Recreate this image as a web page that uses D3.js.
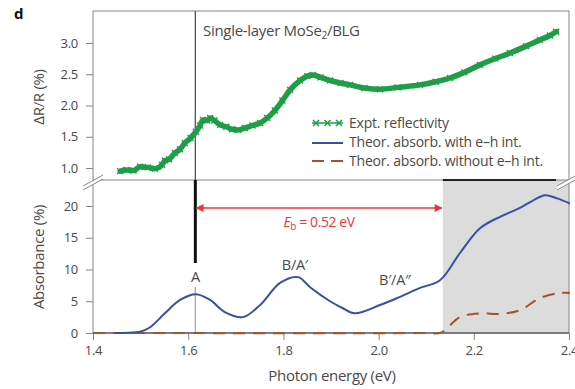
<!DOCTYPE html>
<html>
<head>
<meta charset="utf-8">
<script src="https://cdn.jsdelivr.net/npm/d3@7"></script>
<style>
  body { margin: 0; background: #fff; }
  svg { display: block; font-family: "Open Sans", sans-serif; }
</style>
</head>
<body>
<div id="chart"></div>
<script>
// experimental reflectivity (top panel)
const reflEnergy = [1.457,1.47,1.485,1.499,1.515,1.530,1.545,1.551,1.56,1.572,1.583,1.593,1.605,1.616,1.625,1.631,1.640,1.646,1.655,1.667,1.68,1.692,1.705,1.719,1.735,1.751,1.766,1.782,1.798,1.814,1.835,1.850,1.862,1.878,1.898,1.92,1.940,1.97,2.003,2.04,2.087,2.12,2.150,2.18,2.213,2.245,2.276,2.31,2.339,2.36,2.373];
const reflValue  = [0.95,0.97,0.96,1.02,1.01,0.99,1.05,1.12,1.14,1.24,1.30,1.40,1.48,1.58,1.68,1.77,1.76,1.80,1.76,1.69,1.66,1.62,1.61,1.64,1.68,1.72,1.80,1.92,2.08,2.25,2.40,2.47,2.49,2.45,2.40,2.36,2.33,2.28,2.26,2.29,2.33,2.38,2.44,2.53,2.65,2.75,2.84,2.95,3.05,3.12,3.18];

// theoretical absorbance with e-h interaction
const withEhEnergy = [1.445,1.475,1.499,1.520,1.551,1.583,1.616,1.646,1.677,1.715,1.751,1.793,1.831,1.856,1.898,1.925,1.950,2.003,2.045,2.087,2.129,2.171,2.213,2.255,2.297,2.325,2.350,2.375,2.402];
const withEhValue  = [0,0.05,0.2,0.9,3.1,5.2,6.1,5.2,3.3,2.5,4.4,7.9,8.8,7.2,5.0,3.9,3.1,4.4,5.7,7.1,8.3,12.6,16.5,18.3,19.7,20.9,21.7,21.2,20.4];

// theoretical absorbance without e-h interaction
const noEhEnergy = [1.40,2.10,2.131,2.171,2.213,2.255,2.297,2.339,2.381,2.402];
const noEhValue  = [0,0,0.05,2.5,3.1,3.0,3.6,5.5,6.3,6.3];

const xTicks = [1.4,1.6,1.8,2.0,2.2,2.4];
const topTicks = [1.0,1.5,2.0,2.5,3.0];
const botTicks = [0,5,10,15,20];

const peakA = 1.615;
const bindingEnergy = 0.52;
const peakLabels = [
  {text: "A", e: 1.615, v: 8.66},
  {text: "B/A\u2032", e: 1.824, v: 10.55},
  {text: "B\u2032/A\u2033", e: 2.034, v: 8.19}
];
const legendItems = ["Expt. reflectivity", "Theor. absorb. with e\u2013h int.", "Theor. absorb. without e\u2013h int."];

const W = 575, H = 389;
const left = 93, right = 569, topY = 11, midY = 180, botY = 333;
const textCol = "#4a4a4a", axisCol = "#858585";
const green = "#1f9d47", blue = "#3a4ea6", brown = "#a3532c", red = "#e8373f";

const svg = d3.select("#chart").append("svg").attr("width", W).attr("height", H);
svg.append("rect").attr("width", W).attr("height", H).attr("fill", "#fff");

const x = d3.scaleLinear().domain([1.4, 2.4]).range([left, right]);
const yTop = d3.scaleLinear().domain([1.0, 3.0]).range([168, 43]);
const yBot = d3.scaleLinear().domain([0, 20]).range([botY, 206]);

// shaded continuum region
const shadeStart = peakA + bindingEnergy;
svg.append("rect")
  .attr("x", x(shadeStart)).attr("y", midY)
  .attr("width", x(2.4) - x(shadeStart)).attr("height", botY - midY)
  .attr("fill", "#dcdcdc");

// frame
svg.append("path")
  .attr("d", `M${left},${topY}H${right}V${botY}M${left},${midY}H${right}`)
  .attr("fill", "none").attr("stroke", axisCol).attr("stroke-width", 1);
svg.append("line")
  .attr("x1", x(shadeStart)).attr("x2", 556).attr("y1", midY).attr("y2", midY)
  .attr("stroke", "#222").attr("stroke-width", 2);

// vertical line at peak A
svg.append("line").attr("x1", x(peakA)).attr("x2", x(peakA)).attr("y1", topY).attr("y2", midY)
  .attr("stroke", "#555").attr("stroke-width", 1.3);
svg.append("line").attr("x1", x(peakA)).attr("x2", x(peakA)).attr("y1", 287).attr("y2", botY)
  .attr("stroke", "#aaa").attr("stroke-width", 1.3);
svg.append("line").attr("x1", x(peakA)).attr("x2", x(peakA)).attr("y1", midY).attr("y2", 263)
  .attr("stroke", "#111").attr("stroke-width", 3);

// axes
const axL1 = svg.append("g").attr("transform", `translate(${left},0)`)
  .call(d3.axisLeft(yTop).tickValues(topTicks).tickFormat(d3.format(".1f")).tickSize(7).tickPadding(8));
const axL2 = svg.append("g").attr("transform", `translate(${left},0)`)
  .call(d3.axisLeft(yBot).tickValues(botTicks).tickFormat(d3.format("d")).tickSize(7).tickPadding(8));
const axB = svg.append("g").attr("transform", `translate(0,${botY})`)
  .call(d3.axisBottom(x).tickValues(xTicks).tickFormat(d3.format(".1f")).tickSize(7).tickPadding(6));
[axL1, axL2, axB].forEach(g => {
  g.select(".domain").remove();
  g.selectAll("line").attr("stroke", axisCol);
  g.selectAll("text").attr("fill", textCol).attr("font-size", 13)
    .attr("font-family", "Open Sans, sans-serif").attr("letter-spacing", "-0.3px");
});
svg.append("line").attr("x1", left).attr("x2", left).attr("y1", topY).attr("y2", botY)
  .attr("stroke", axisCol);
svg.append("line").attr("x1", left).attr("x2", right).attr("y1", botY).attr("y2", botY)
  .attr("stroke", "#555").attr("stroke-width", 1.3);

// axis break marks
function breakMark(cx, cy) {
  const g = svg.append("g").attr("transform", `translate(${cx},${cy})`);
  g.append("path").attr("d", "M-10,5 L10,-6 L10,-2 L-10,9Z").attr("fill", "#fff");
  g.append("path").attr("d", "M-10,5 L10,-6 M-10,9 L10,-2")
    .attr("stroke", "#888").attr("stroke-width", 1);
}
breakMark(left, 181);
breakMark(right - 2, 181);

// lines
const lineTop = d3.line().x(d => x(d[0])).y(d => yTop(d[1])).curve(d3.curveMonotoneX);
const lineBot = d3.line().x(d => x(d[0])).y(d => yBot(d[1])).curve(d3.curveCatmullRom.alpha(0.5));

svg.append("path").datum(noEhEnergy.map((e, i) => [e, noEhValue[i]]))
  .attr("d", lineBot).attr("fill", "none").attr("stroke", brown)
  .attr("stroke-width", 2).attr("stroke-dasharray", "12,8");
svg.append("path").datum(withEhEnergy.map((e, i) => [e, withEhValue[i]]))
  .attr("d", lineBot).attr("fill", "none").attr("stroke", blue).attr("stroke-width", 2);

const reflData = reflEnergy.map((e, i) => [e, reflValue[i]]);
svg.append("path").datum(reflData)
  .attr("d", lineTop).attr("fill", "none").attr("stroke", green)
  .attr("stroke-width", 5.5).attr("stroke-linejoin", "round").attr("stroke-linecap", "round");
const cross = "M-3,-3L3,3M-3,3L3,-3";
svg.append("g").selectAll("path").data(reflData).join("path")
  .attr("transform", d => `translate(${x(d[0])},${yTop(d[1])})`)
  .attr("d", cross).attr("stroke", green).attr("stroke-width", 1.4);

// binding energy arrow
const defs = svg.append("defs");
defs.append("marker").attr("id", "ah").attr("viewBox", "0 0 10 10")
  .attr("refX", 9).attr("refY", 5).attr("markerWidth", 9).attr("markerHeight", 8)
  .attr("orient", "auto-start-reverse").attr("markerUnits", "userSpaceOnUse")
  .append("path").attr("d", "M0,0L10,5L0,10Z").attr("fill", red);
svg.append("line")
  .attr("x1", x(peakA) + 1).attr("x2", x(shadeStart) - 1)
  .attr("y1", 208).attr("y2", 208)
  .attr("stroke", red).attr("stroke-width", 1.5)
  .attr("marker-start", "url(#ah)").attr("marker-end", "url(#ah)");
const eb = svg.append("text").attr("x", x((peakA + shadeStart) / 2)).attr("y", 227)
  .attr("text-anchor", "middle").attr("fill", red).attr("font-size", 14).attr("letter-spacing", "-0.4px");
eb.append("tspan").attr("font-style", "italic").text("E");
eb.append("tspan").attr("font-size", 10).attr("dy", 3).text("b");
eb.append("tspan").attr("dy", -3).text(" = 0.52 eV");

// peak labels
svg.append("g").selectAll("text").data(peakLabels).join("text")
  .attr("x", d => x(d.e)).attr("y", d => yBot(d.v) + 4)
  .attr("text-anchor", "middle").attr("fill", textCol).attr("font-size", 14.5)
  .attr("letter-spacing", "-0.3px").text(d => d.text);

// panel title
const title = svg.append("text").attr("x", 203).attr("y", 36)
  .attr("fill", textCol).attr("font-size", 15).attr("letter-spacing", "-0.3px");
title.append("tspan").text("Single-layer MoSe");
title.append("tspan").attr("font-size", 10).attr("dy", 3).text("2");
title.append("tspan").attr("dy", -3).text("/BLG");

// legend
const lg = svg.append("g").attr("transform", "translate(312,0)");
lg.append("line").attr("x1", 0).attr("x2", 31).attr("y1", 123).attr("y2", 123)
  .attr("stroke", green).attr("stroke-width", 1.5);
lg.append("g").selectAll("path").data([4, 15.5, 27]).join("path")
  .attr("transform", d => `translate(${d},123)`).attr("d", cross)
  .attr("stroke", green).attr("stroke-width", 1.5);
lg.append("line").attr("x1", 0).attr("x2", 31).attr("y1", 143).attr("y2", 143)
  .attr("stroke", blue).attr("stroke-width", 2);
lg.append("line").attr("x1", 0).attr("x2", 31).attr("y1", 161).attr("y2", 161)
  .attr("stroke", brown).attr("stroke-width", 2).attr("stroke-dasharray", "12,7");
lg.selectAll("text.lt").data(legendItems).join("text")
  .attr("x", 37).attr("y", (d, i) => 128 + i * 19)
  .attr("fill", textCol).attr("font-size", 14).attr("letter-spacing", "-0.2px").text(d => d);

// axis titles
svg.append("text").attr("transform", "translate(44,97) rotate(-90)")
  .attr("text-anchor", "middle").attr("fill", textCol).attr("font-size", 15)
  .attr("letter-spacing", "-0.3px").text("\u0394R/R (%)");
svg.append("text").attr("transform", "translate(44,257) rotate(-90)")
  .attr("text-anchor", "middle").attr("fill", textCol).attr("font-size", 15)
  .attr("letter-spacing", "-0.3px").text("Absorbance (%)");
svg.append("text").attr("x", 332).attr("y", 381)
  .attr("text-anchor", "middle").attr("fill", textCol).attr("font-size", 15)
  .attr("letter-spacing", "-0.3px").text("Photon energy (eV)");

svg.append("text").attr("x", 14).attr("y", 19).attr("font-weight", "bold")
  .attr("font-size", 15).attr("fill", "#111").text("d");
</script>
</body>
</html>
